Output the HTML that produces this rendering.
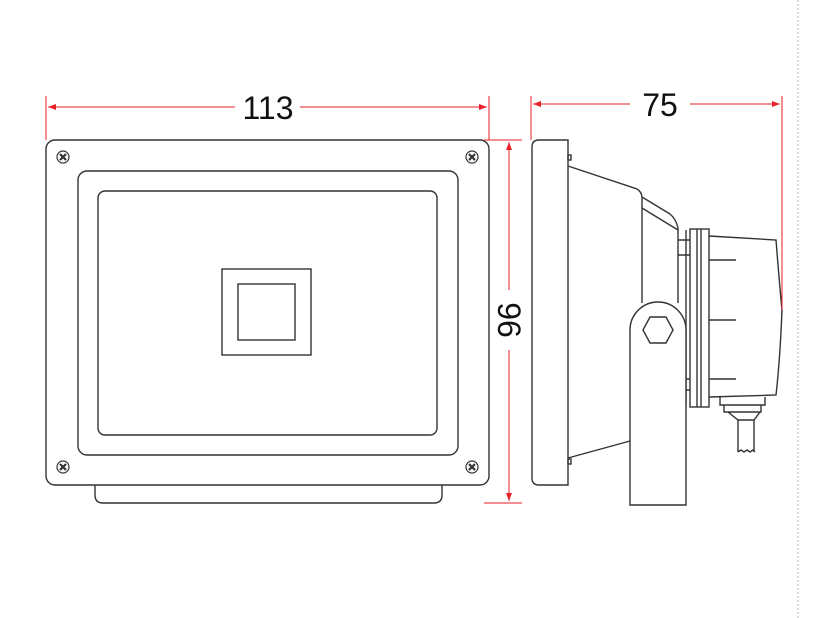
<!DOCTYPE html>
<html><head><style>body{margin:0;background:#fff}svg{display:block}</style></head>
<body>
<svg width="837" height="618" viewBox="0 0 837 618" xmlns="http://www.w3.org/2000/svg">
<defs>
<marker id="a" markerWidth="8" markerHeight="6" refX="8" refY="3" orient="auto"><path d="M0,0 L8,3 L0,6 z" fill="#e8202a"/></marker>
</defs>
<line x1="798" y1="0" x2="798" y2="618" stroke="#bbb" stroke-dasharray="2,2"/>
<g stroke="#333" stroke-width="1.4" fill="none">
<!-- front -->
<rect x="46" y="140" width="443" height="345" rx="9"/>
<rect x="78" y="171" width="380" height="284" rx="9"/>
<rect x="98" y="191" width="339" height="244" rx="7"/>
<rect x="222" y="269" width="89" height="86"/>
<rect x="238" y="284" width="57" height="56"/>
<path d="M95,485 V495 Q95,503 103,503 H434 Q442,503 442,495 V485"/>
<g stroke-width="1.2">
<circle cx="63" cy="157" r="6"/><circle cx="472" cy="157" r="6"/>
<circle cx="63" cy="467" r="6"/><circle cx="472" cy="467" r="6"/>
</g>
<g stroke-width="2.2">
<path d="M60,154l6,6M66,154l-6,6M469,154l6,6M475,154l-6,6M60,464l6,6M66,464l-6,6M469,464l6,6M475,464l-6,6"/>
</g>
<!-- side -->
<path d="M539,140 H568 V485 H539 Q532,485 532,478 V147 Q532,140 539,140 Z"/>
<rect x="568" y="155" width="3" height="5"/><rect x="568" y="459" width="3" height="5"/>
<path d="M568,166 L637,189 Q642,192 642,198 V303"/>
<path d="M642,197 L670,214 Q676,219 678,228 V303"/>
<path d="M642,208 L678,230"/>
<path d="M568,458 L630,441"/>
<path d="M678,240 H690 M678,255 H690 M678,379 H690 M678,390 H690 M686,230 V405"/>
<rect x="690" y="229" width="19" height="178"/>
<path d="M697,229 V407 M701,229 V407"/>
<path d="M709,236 L776,240 Q780,290 782,310 Q780,360 776,395 L709,397"/>
<path d="M709,260 H736 M709,320 H736 M709,379 H736"/>
<path d="M720,397 V405 H765 V397 M724,405 V412 H761 V405 M728,412 L738,420 H754 L760,412"/>
<path d="M738,420 V452 M754,420 V452 M738,452 l3,-2 3,2 3,-2 3,2 3,-2 2,2"/>
<path d="M630,505 V330 A28,28 0 0 1 686,330 V505 Z" fill="#fff"/>
<path d="M643,330 L650,317 H666 L673,330 L666,343 H650 Z"/>
</g>
<!-- dims -->
<g stroke="#e8202a" stroke-width="1" fill="none">
<line x1="46" y1="96" x2="46" y2="140"/><line x1="489" y1="96" x2="489" y2="140"/>
<line x1="235" y1="107" x2="48" y2="107" marker-end="url(#a)"/>
<line x1="300" y1="107" x2="487" y2="107" marker-end="url(#a)"/>
<line x1="484" y1="140" x2="522" y2="140"/><line x1="484" y1="503" x2="522" y2="503"/>
<line x1="509" y1="290" x2="509" y2="142" marker-end="url(#a)"/>
<line x1="509" y1="350" x2="509" y2="501" marker-end="url(#a)"/>
<line x1="531" y1="96" x2="531" y2="140"/><line x1="782" y1="96" x2="782" y2="310"/>
<line x1="630" y1="104" x2="533" y2="104" marker-end="url(#a)"/>
<line x1="690" y1="104" x2="780" y2="104" marker-end="url(#a)"/>
</g>
<g font-family="Liberation Sans, sans-serif" font-size="32" fill="#111" text-anchor="middle">
<text x="268" y="119">113</text>
<text x="660" y="116">75</text>
<text transform="translate(498,320) rotate(90)" y="0">96</text>
</g>
</svg>
</body></html>
